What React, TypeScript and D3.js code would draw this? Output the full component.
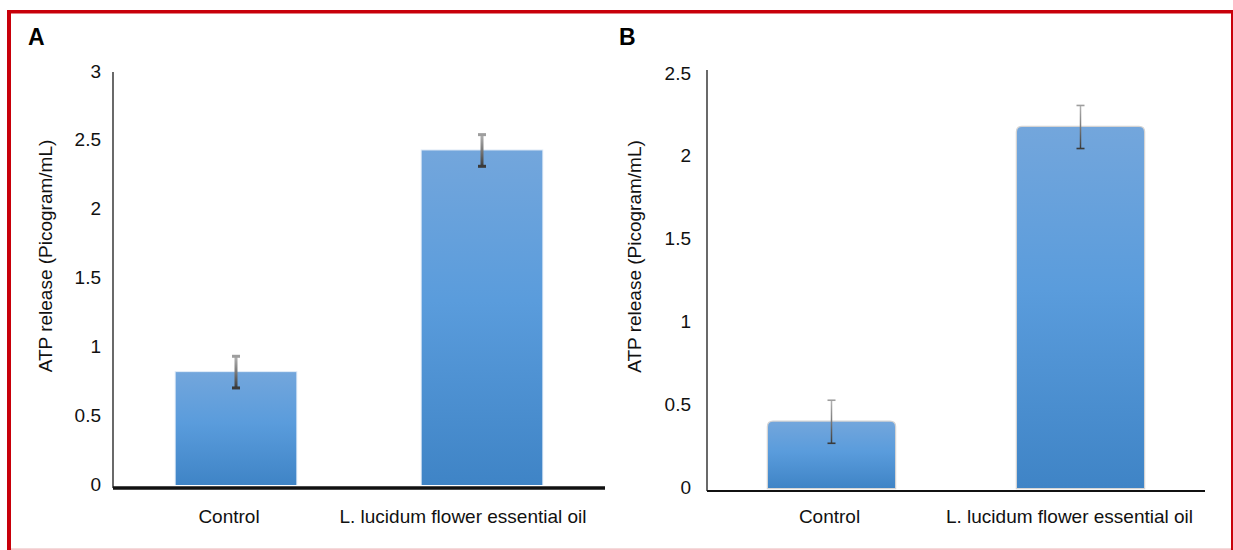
import React from 'react';
import * as d3 from 'd3';

// data
const categories = ['Control', 'L. lucidum flower essential oil'];
const valuesA = [0.82, 2.43];
const errorsA = [0.115, 0.115];
const valuesB = [0.4, 2.18];
const errorsB = [0.13, 0.13];
const ticksA = [0, 0.5, 1, 1.5, 2, 2.5, 3];
const ticksB = [0, 0.5, 1, 1.5, 2, 2.5];

const W = 1233;
const H = 550;
const FONT = '"Liberation Sans", Arial, sans-serif';

interface PanelProps {
  id: string;
  letter: string;
  letterX: number;
  values: number[];
  errors: number[];
  ticks: number[];
  x0: number;
  x1: number;
  yTop: number;
  yZero: number;
  axisTop: number;
  axisBottom: number;
  tickRight: number;
  titleX: number;
  barPad: number;
  thickBase: boolean;
  rounded: boolean;
  errWidth: number;
  labelShift: number[];
}

const Panel: React.FC<PanelProps> = (p) => {
  const x = d3.scaleBand<string>().domain(categories).range([p.x0, p.x1]).paddingInner(p.barPad).paddingOuter(p.barPad / 2);
  const y = d3.scaleLinear().domain([0, d3.max(p.ticks) as number]).range([p.yZero, p.yTop]);
  const bw = x.bandwidth();
  const titleY = (p.axisTop + p.axisBottom) / 2 - 24;

  return (
    <g>
      <defs>
        <linearGradient id={`bar-${p.id}`} x1="0" y1="0" x2="0" y2="1">
          <stop offset="0%" stopColor="#73a6dc" />
          <stop offset="45%" stopColor="#5a9cdc" />
          <stop offset="100%" stopColor="#3f84c6" />
        </linearGradient>
        {p.values.map((v, i) => (
          <linearGradient key={i} id={`err-${p.id}-${i}`} gradientUnits="userSpaceOnUse"
            x1="0" x2="0" y1={y(v + p.errors[i])} y2={y(v - p.errors[i])}>
            <stop offset="0%" stopColor="#b4b4b4" />
            <stop offset="100%" stopColor="#3c3c3c" />
          </linearGradient>
        ))}
      </defs>

      <text x={p.letterX} y={45} fontFamily={FONT} fontWeight="bold" fontSize={23} fill="#000">{p.letter}</text>

      {/* bars */}
      {p.values.map((v, i) => {
        const bx = x(categories[i]) as number;
        const top = y(v);
        const bottom = y(0);
        if (p.rounded) {
          const r = 5;
          const path = `M${bx},${bottom} L${bx},${top + r} Q${bx},${top} ${bx + r},${top} L${bx + bw - r},${top} Q${bx + bw},${top} ${bx + bw},${top + r} L${bx + bw},${bottom} Z`;
          return (
            <g key={i}>
              <path d={path} fill="none" stroke="#b8b8b8" strokeWidth={2.5} opacity={0.6} />
              <path d={path} fill={`url(#bar-${p.id})`} />
            </g>
          );
        }
        return (
          <g key={i}>
            <rect x={bx - 1} y={top - 1} width={bw + 2} height={bottom - top + 1} fill="#dde9f6" />
            <rect x={bx} y={top} width={bw} height={bottom - top} fill={`url(#bar-${p.id})`} />
          </g>
        );
      })}

      {/* error bars */}
      {p.values.map((v, i) => {
        const cx = (x(categories[i]) as number) + bw / 2;
        const hi = y(v + p.errors[i]);
        const lo = y(v - p.errors[i]);
        const capW = 8;
        const capH = p.thickBase ? 3 : 1.6;
        return (
          <g key={i}>
            <line x1={cx} x2={cx} y1={hi} y2={lo} stroke={`url(#err-${p.id}-${i})`} strokeWidth={p.errWidth} />
            <rect x={cx - capW / 2} y={hi - capH / 2} width={capW} height={capH} fill="#9e9e9e" />
            <rect x={cx - capW / 2} y={lo - capH / 2} width={capW} height={capH} fill="#3a3a3a" />
          </g>
        );
      })}

      {/* axes */}
      <line x1={p.x0} x2={p.x0} y1={p.axisTop} y2={p.axisBottom} stroke="#1a1a1a" strokeWidth={1.3} />
      <line x1={p.x0} x2={p.x1} y1={p.axisBottom} y2={p.axisBottom} stroke="#111"
        strokeWidth={p.thickBase ? 3.5 : 1.8} />

      {p.ticks.map((t) => (
        <text key={t} x={p.tickRight} y={y(t) - 1} textAnchor="end" dominantBaseline="central"
          fontFamily={FONT} fontSize={19} fill="#111">{String(t)}</text>
      ))}

      {categories.map((c, i) => (
        <text key={c} x={(x(c) as number) + bw / 2 + p.labelShift[i]} y={523} textAnchor="middle"
          fontFamily={FONT} fontSize={19} fill="#111">{c}</text>
      ))}

      <text transform={`translate(${p.titleX},${titleY}) rotate(-90)`} textAnchor="middle" dominantBaseline="central"
        fontFamily={FONT} fontSize={19} fill="#111">ATP release (Picogram/mL)</text>
    </g>
  );
};

export default function App() {
  return (
    <div style={{ position: 'absolute', left: 0, top: 0 }}>
      <svg width={W} height={H} style={{ display: 'block', background: '#fff' }}>
        {/* red frame */}
        <rect x={7} y={10} width={4} height={H - 10} fill="#c8000a" />
        <rect x={7} y={10} width={W - 7} height={3.5} fill="#c8000a" />
        <rect x={1231} y={10} width={2} height={H - 10} fill="#c8000a" />
        <rect x={11} y={548.3} width={1220} height={1.7} fill="#f3c9cc" />

        <Panel id="a" letter="A" letterX={28} values={valuesA} errors={errorsA} ticks={ticksA}
          x0={113} x1={605} yTop={72} yZero={485} axisTop={72} axisBottom={488}
          tickRight={101} titleX={45} barPad={0.51} thickBase={true} rounded={false} errWidth={3}
          labelShift={[-7, -19]} />
        <Panel id="b" letter="B" letterX={619} values={valuesB} errors={errorsB} ticks={ticksB}
          x0={707} x1={1205} yTop={74} yZero={488} axisTop={70} axisBottom={491}
          tickRight={691} titleX={634} barPad={0.49} thickBase={false} rounded={true} errWidth={1.5}
          labelShift={[-2, -11]} />
      </svg>
    </div>
  );
}
